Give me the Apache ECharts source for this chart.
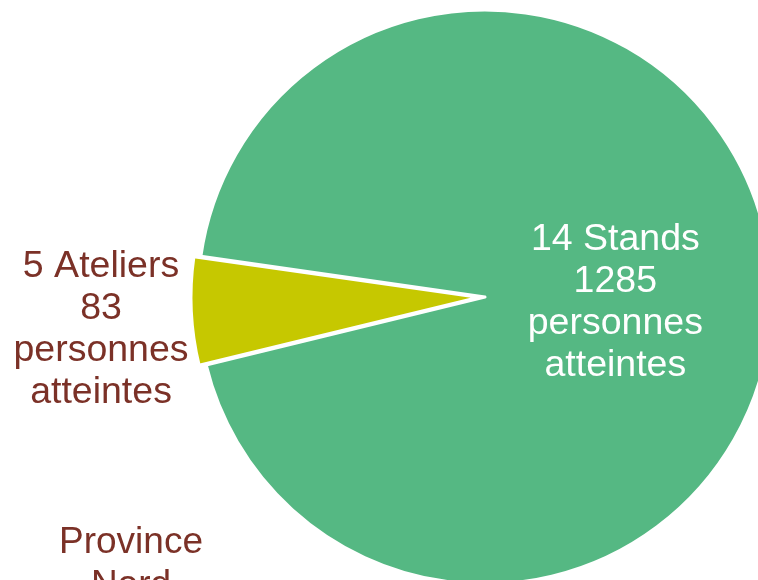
<!DOCTYPE html>
<html>
<head>
<meta charset="utf-8">
<script src="https://cdn.jsdelivr.net/npm/echarts@6/dist/echarts.min.js"></script>
<style>
  html, body { margin: 0; padding: 0; background: #fff; }
  #main { width: 758px; height: 580px; }
</style>
</head>
<body>
<div id="main"></div>
<script>
// données
const categories = ['Ateliers', 'Stands'];
const counts = [5, 14];
const persons = [83, 1285];
const colors = ['#c6c800', '#55b883'];
const nextTitle = 'Province\nNord';

const font = '"Liberation Sans", Arial, sans-serif';
const brown = '#7b3127';

const labelText = (i) => [counts[i] + ' ' + categories[i], String(persons[i]), 'personnes', 'atteintes'];
const richText = (i) => labelText(i).map(t => '{a|' + t + '}').join('\n');

const pieData = categories.map((c, i) => ({
  name: c,
  value: persons[i],
  itemStyle: { color: colors[i] }
}));

// atelier : étiquette à l'extérieur, à gauche
pieData[0].selected = true;
pieData[0].label = {
  position: 'outside',
  alignTo: 'edge',
  edgeDistance: 23,
  padding: [36, 0, 0, 0],
  formatter: () => richText(0),
  rich: {
    a: { width: 170, align: 'center', fontSize: 37.5, lineHeight: 42, color: brown, fontFamily: font }
  }
};
pieData[0].labelLine = { show: false };

// stands : étiquette dans la part
pieData[1].label = {
  position: 'inside',
  padding: [26, 32, 0, 0],
  formatter: () => richText(1),
  rich: {
    a: { width: 180, align: 'center', fontSize: 37.5, lineHeight: 42, color: '#fff', fontFamily: font }
  }
};

const myChart = echarts.init(document.getElementById('main'));
myChart.setOption({
  animation: false,
  graphic: [{
    type: 'text',
    x: 131,
    y: 521,
    style: {
      text: nextTitle,
      fill: brown,
      font: '37px ' + font,
      textAlign: 'center',
      lineHeight: 43
    }
  }],
  series: [{
    type: 'pie',
    center: [485, 297],
    radius: 287,
    startAngle: 193.7,
    clockwise: true,
    selectedMode: 'single',
    selectedOffset: 7,
    avoidLabelOverlap: false,
    itemStyle: { borderColor: '#fff', borderWidth: 3 },
    emphasis: { disabled: true },
    data: pieData
  }]
});
</script>
</body>
</html>
